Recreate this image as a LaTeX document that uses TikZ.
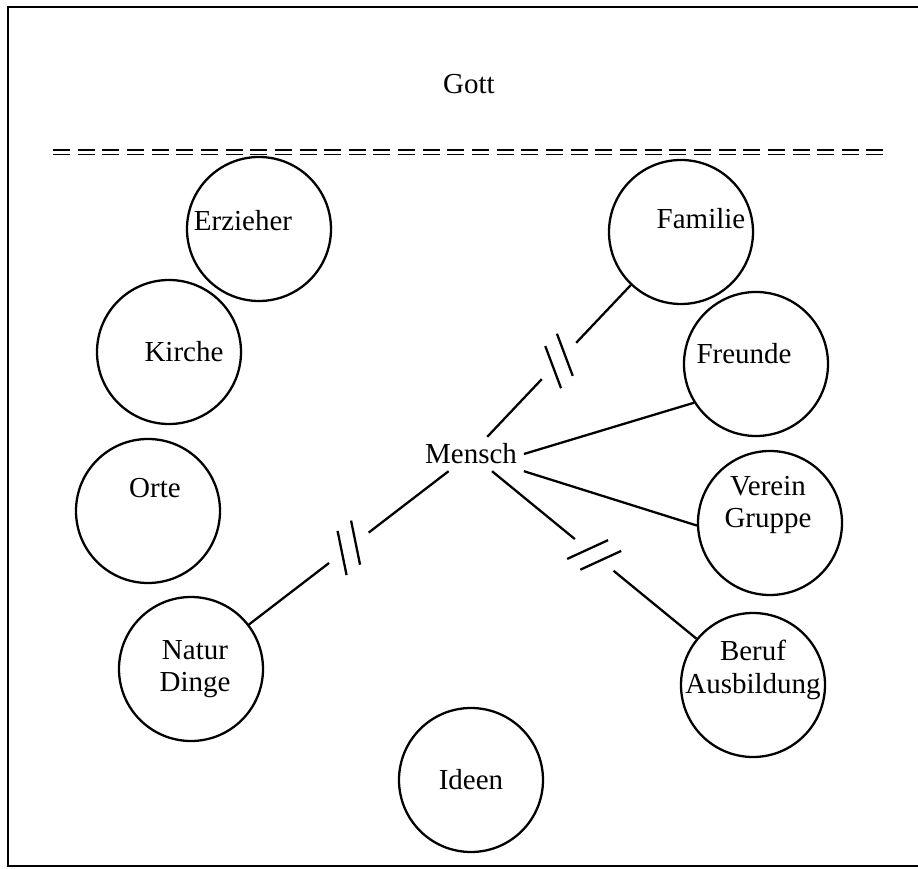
\documentclass[tikz,border=0pt]{standalone}
\usepackage{fontspec}
\setmainfont{Liberation Serif}
\usetikzlibrary{calc}

\begin{document}
\begin{tikzpicture}[
  font=\fontsize{16.5}{18.5}\selectfont,
  line width=1.3pt,
  bubble/.style={
    draw,
    circle,
    minimum size=2.88cm,
    inner sep=0pt
  },
  every label/.style={align=center, inner sep=0pt},
  godline/.style={line width=0.6pt, dash pattern=on 3.4mm off 1.53mm},
  breakmark/.pic={
    \draw (-1.7mm,0) ++(64:-4.5mm) -- ++(64:9mm);
    \draw (1.7mm,0) ++(64:-4.5mm) -- ++(64:9mm);
  }
]
  \useasboundingbox (0,0) rectangle (18.36,17.38);

  % frame, open on the right
  \draw[line width=1pt] (18.36,17.24) -- (0.16,17.24) -- (0.16,0.06) -- (18.36,0.06);

  % Gott above the double dashed line
  \node (gott) at (9.38,15.70) {Gott};
  \draw[godline] (1.06,14.38) -- (17.66,14.38);
  \draw[godline] (1.06,14.29) -- (17.66,14.29);

  % left side
  \node[bubble, label={[shift={(-0.32,0.16)}]center:Erzieher}] (erzieher) at (5.18,12.80) {};
  \node[bubble, label={[shift={(0.30,0)}]center:Kirche}] (kirche) at (3.38,10.34) {};
  \node[bubble, label={[shift={(0.14,0.46)}]center:Orte}] (orte) at (2.96,7.16) {};
  \node[bubble, label={[shift={(0.08,0)}]center:Natur\\Dinge}] (natur) at (3.82,4.00) {};

  % bottom
  \node[bubble, label={center:Ideen}] (ideen) at (9.42,1.78) {};

  % right side
  \node[bubble, label={[shift={(0.40,0.26)}]center:Familie}] (familie) at (13.62,12.74) {};
  \node[bubble, label={[shift={(-0.24,0.20)}]center:Freunde}] (freunde) at (15.12,10.10) {};
  \node[bubble, label={[shift={(-0.04,0.36)}]center:Verein\\Gruppe}] (verein) at (15.40,6.92) {};
  \node[bubble, label={[shift={(0,0.30)}]center:Beruf\\Ausbildung}] (beruf) at (15.06,3.68) {};

  % centre
  \node (mensch) at (9.42,8.30) {Mensch};

  % plain links
  \draw (mensch.east) -- (freunde.212);
  \draw (mensch.south east) -- (verein.182);

  % broken links
  \foreach \tgt in {familie,natur,beruf}{
    \path (mensch) -- coordinate[pos=.5] (gap-\tgt) (\tgt);
    \draw (mensch) -- ($(gap-\tgt)!5mm!(mensch)$);
    \draw ($(gap-\tgt)!5mm!(\tgt)$) -- (\tgt);
    \path (mensch) -- pic[pos=.5, sloped]{breakmark} (\tgt);
  }

\end{tikzpicture}
\end{document}
